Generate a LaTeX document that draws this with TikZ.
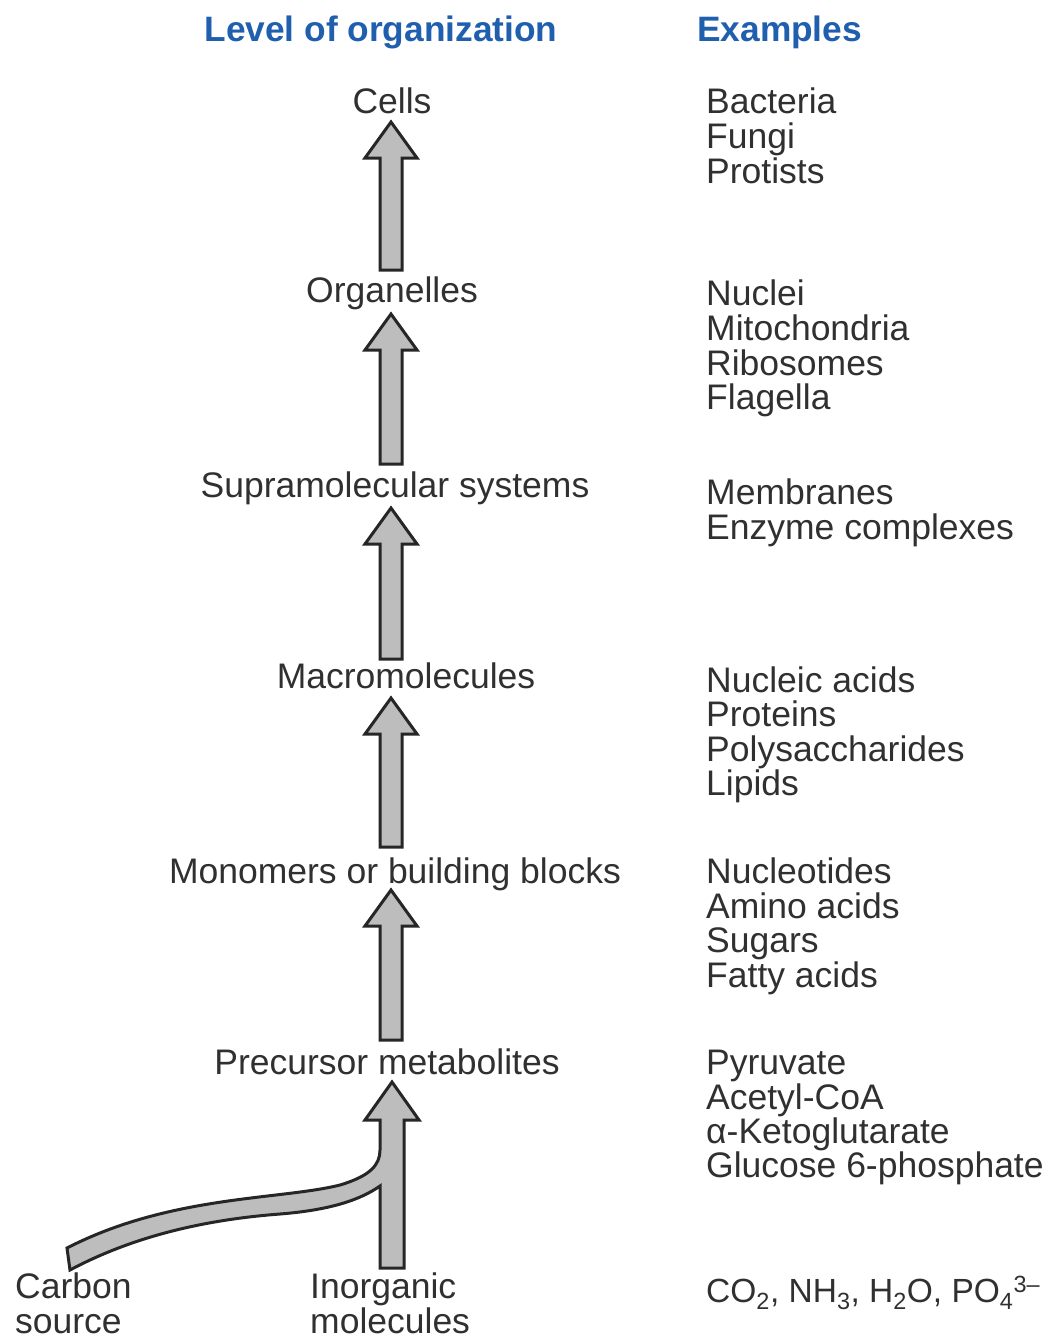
\documentclass[tikz,border=0pt]{standalone}
\usepackage{fontspec}
\setmainfont{Liberation Sans}
\usetikzlibrary{calc}
\definecolor{hdblue}{HTML}{1F5FAE}
\definecolor{txt}{HTML}{303030}
\definecolor{arrfill}{HTML}{BDBDBD}
\definecolor{arrline}{HTML}{262626}
\tikzset{
  lbl/.style={inner sep=0pt, anchor=base, text=txt, font=\fontsize{35.5}{35}\selectfont},
  exm/.style={inner sep=0pt, anchor=base west, text=txt, font=\fontsize{35.5}{35}\selectfont},
  hdr/.style={inner sep=0pt, anchor=base, text=hdblue, font=\fontsize{35.3}{35}\selectfont\bfseries},
  blockarr/.style={fill=arrfill, draw=arrline, line width=3pt, line join=miter}
}
\newcommand\myuparr[2]{% name of bottom coord, name of tip coord
  \draw[blockarr] ($(#1)+(-11,0)$) -- ($(#2)+(-11,36)$) -- ($(#2)+(-26,36)$) -- (#2) -- ($(#2)+(26,36)$) -- ($(#2)+(11,36)$) -- ($(#1)+(11,0)$) -- cycle;}
\begin{document}
\begin{tikzpicture}[x=1pt,y=-1pt]
\useasboundingbox (0,0) rectangle (1054,1338);
% headers
\node[hdr] (hlevel) at (381,42) {Level of organization};
\node[hdr, anchor=base west] (hex) at (697,42) {Examples};
% levels
\node[lbl] (cells) at (392,113) {Cells};
\node[lbl] (org) at (392,302) {Organelles};
\node[lbl] (supra) at (395,497) {Supramolecular systems};
\node[lbl] (macro) at (406,688) {Macromolecules};
\node[lbl] (mono) at (395,883) {Monomers or building blocks};
\node[lbl] (prec) at (387,1074) {Precursor metabolites};
\node[exm] (carb1) at (15,1298) {Carbon};
\node[exm] (carb2) at (15,1333) {source};
\node[exm] (inorg1) at (310,1298) {Inorganic};
\node[exm] (inorg2) at (310,1333) {molecules};
% examples
\node[exm] (e1) at (706,113) {Bacteria};
\node[exm] (e2) at (706,148) {Fungi};
\node[exm] (e3) at (706,183) {Protists};
\node[exm] (e4) at (706,305) {Nuclei};
\node[exm] (e5) at (706,340) {Mitochondria};
\node[exm] (e6) at (706,375) {Ribosomes};
\node[exm] (e7) at (706,409) {Flagella};
\node[exm] (e8) at (706,504) {Membranes};
\node[exm] (e9) at (706,539) {Enzyme complexes};
\node[exm] (e10) at (706,692) {Nucleic acids};
\node[exm] (e11) at (706,726) {Proteins};
\node[exm] (e12) at (706,761) {Polysaccharides};
\node[exm] (e13) at (706,795) {Lipids};
\node[exm] (e14) at (706,883) {Nucleotides};
\node[exm] (e15) at (706,918) {Amino acids};
\node[exm] (e16) at (706,952) {Sugars};
\node[exm] (e17) at (706,987) {Fatty acids};
\node[exm] (e18) at (706,1074) {Pyruvate};
\node[exm] (e19) at (706,1109) {Acetyl-CoA};
\node[exm] (e20) at (706,1143) {α-Ketoglutarate};
\node[exm] (e21) at (706,1177) {Glucose 6-phosphate};
\node[exm, font=\fontsize{33.5}{35}\selectfont] (e22) at (706,1302) {CO\textsubscript{2}, NH\textsubscript{3}, H\textsubscript{2}O, PO\textsubscript{4}\textsuperscript{3–}};
% arrow coordinates
\coordinate (b1) at (391,270);  \coordinate (t1) at (391,122);
\coordinate (b2) at (391,464);  \coordinate (t2) at (391,314);
\coordinate (b3) at (391,659);  \coordinate (t3) at (391,508);
\coordinate (b4) at (391,847);  \coordinate (t4) at (391,698);
\coordinate (b5) at (391,1040); \coordinate (t5) at (391,890);
\myuparr{b1}{t1}
\myuparr{b2}{t2}
\myuparr{b3}{t3}
\myuparr{b4}{t4}
\myuparr{b5}{t5}
% bottom merged arrow
\coordinate (t6) at (392,1082);
\coordinate (b6) at (392,1268);
\coordinate (cs) at (68,1259);
\draw[blockarr] ($(b6)+(-12,0)$) -- (380,1186)
  .. controls (360,1200) and (330,1210) .. (280,1214)
  .. controls (200,1220) and (130,1238) .. ($(cs)+(2,11)$)
  -- ($(cs)+(-1,-11)$)
  .. controls (170,1195) and (280,1200) .. (340,1185)
  .. controls (370,1176) and (380,1165) .. (380,1150)
  -- ($(t6)+(-12,38)$) -- ($(t6)+(-27,38)$) -- (t6) -- ($(t6)+(27,38)$) -- ($(t6)+(12,38)$) -- ($(b6)+(12,0)$) -- cycle;
\end{tikzpicture}
\end{document}
